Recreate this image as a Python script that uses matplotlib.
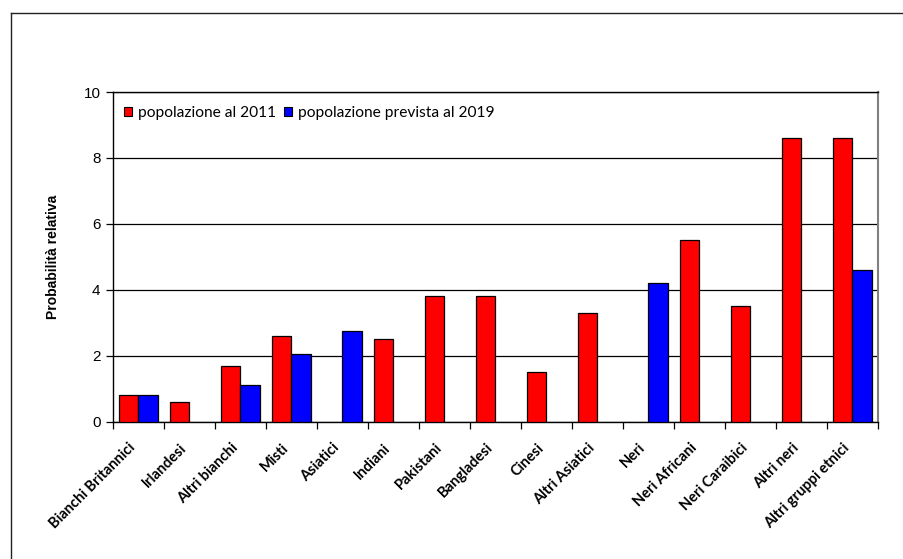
import matplotlib
matplotlib.use("Agg")
import matplotlib.pyplot as plt
import matplotlib.transforms as mtransforms
from matplotlib.lines import Line2D
from matplotlib.patches import Rectangle
import numpy as np

categories = ["Bianchi Britannici", "Irlandesi", "Altri bianchi", "Misti", "Asiatici",
              "Indiani", "Pakistani", "Bangladesi", "Cinesi", "Altri Asiatici",
              "Neri", "Neri Africani", "Neri Caraibici", "Altri neri", "Altri gruppi etnici"]
pop_2011 = [0.8, 0.6, 1.7, 2.6, None, 2.5, 3.8, 3.8, 1.5, 3.3, None, 5.5, 3.5, 8.6, 8.6]
pop_2019 = [0.8, None, 1.1, 2.05, 2.75, None, None, None, None, None, 4.2, None, None, None, 4.6]
series_names = ["popolazione al 2011", "popolazione prevista al 2019"]
yticks = [0, 2, 4, 6, 8, 10]

fig = plt.figure(figsize=(9.04, 5.59), dpi=100)
W, H = 904, 559
ax = fig.add_axes([113 / W, 1 - 421.7 / H, (878 - 113) / W, (421.7 - 92) / H])

# outer chart frame
fig.add_artist(Line2D([11 / W, 11 / W], [0, 1 - 12.7 / H], color="#222222", lw=1.0,
                      transform=fig.transFigure))
fig.add_artist(Line2D([11 / W, 1.0], [1 - 12.7 / H, 1 - 12.7 / H], color="#222222", lw=1.0,
                      transform=fig.transFigure))

x = np.arange(len(categories))
bw = 0.392
red = "#FF0000"
blue = "#0000FF"
for i, v in enumerate(pop_2011):
    if v is not None:
        ax.bar(x[i] - bw / 2, v, width=bw, color=red, edgecolor="black", linewidth=0.9, zorder=3)
for i, v in enumerate(pop_2019):
    if v is not None:
        ax.bar(x[i] + bw / 2, v, width=bw, color=blue, edgecolor="black", linewidth=0.9, zorder=3)

ax.set_xlim(-0.5, len(categories) - 0.5)
ax.set_ylim(0, 10)
ax.set_yticks(yticks)
ax.set_yticklabels([str(t) for t in yticks], fontfamily="Liberation Sans", fontsize=11)
ax.yaxis.grid(True, color="black", linewidth=0.9, zorder=0)
ax.set_axisbelow(True)

ax.set_xticks(np.arange(len(categories) + 1) - 0.5)
ax.set_xticklabels([])
ax.tick_params(axis="x", direction="out", length=5, width=0.9, color="black")
ax.tick_params(axis="y", direction="out", length=5, width=0.9, color="black", pad=4)

for s in ["left", "top", "bottom"]:
    ax.spines[s].set_color("black")
    ax.spines[s].set_linewidth(1.0)
ax.spines["right"].set_color("#808080")
ax.spines["right"].set_linewidth(1.5)

offset = mtransforms.ScaledTranslation(-10 / 100, -19 / 100, fig.dpi_scale_trans)
trans = mtransforms.blended_transform_factory(ax.transData, ax.transAxes) + offset
for i, c in enumerate(categories):
    ax.text(x[i], 0, c, rotation=45, rotation_mode="anchor", ha="right", va="top",
            transform=trans, fontfamily="Lato", fontweight="bold", fontsize=10.5)

ax.set_ylabel("Probabilità relativa", fontfamily="Liberation Sans", fontweight="bold",
              fontsize=10, labelpad=17)

handles = [Rectangle((0, 0), 1, 1, facecolor=red, edgecolor="black", linewidth=0.8),
           Rectangle((0, 0), 1, 1, facecolor=blue, edgecolor="black", linewidth=0.8)]
leg = ax.legend(handles, series_names, loc="upper left", bbox_to_anchor=(0.0, 0.99),
                ncol=2, frameon=False, prop={"family": "Lato", "size": 11.2},
                handlelength=0.55, handleheight=0.55, handletextpad=0.35, columnspacing=0.5,
                borderaxespad=0.3)

fig.savefig("out.png", dpi=100)
